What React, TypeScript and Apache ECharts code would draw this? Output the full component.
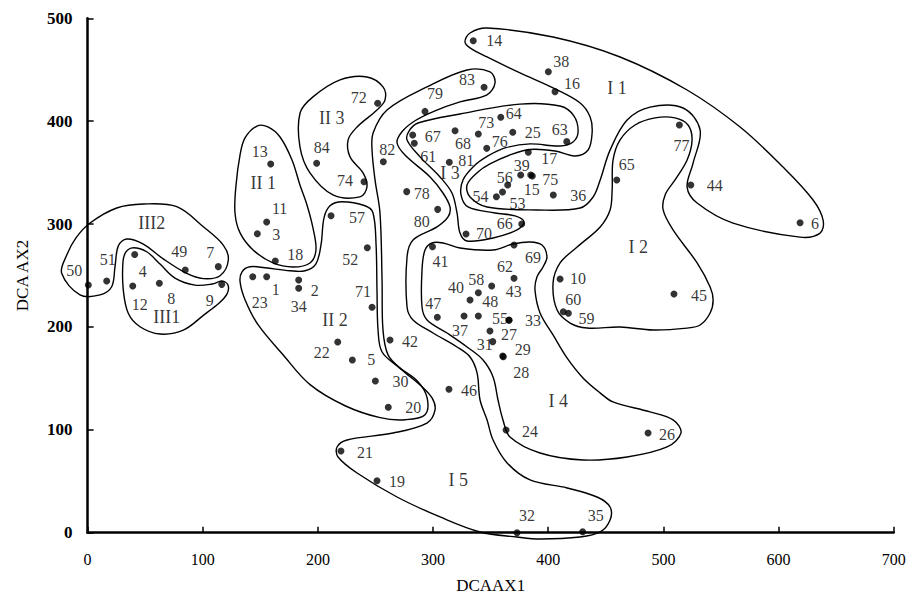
import React, { useEffect, useRef } from "react";
import * as echarts from "echarts";

// ---- sample points (DCA axis 1, DCA axis 2) ----
const pointIds = [
  1, 2, 3, 4, 5, 6, 7, 8, 9, 10, 11, 12, 13, 14, 15, 16, 17, 18, 19, 20, 21,
  22, 23, 24, 25, 26, 27, 28, 29, 30, 31, 32, 33, 34, 35, 36, 37, 38, 39, 40,
  41, 42, 43, 44, 45, 46, 47, 48, 49, 50, 51, 52, 53, 54, 55, 56, 57, 58, 59,
  60, 61, 62, 63, 64, 65, 66, 67, 68, 69, 70, 71, 72, 73, 74, 75, 76, 77, 78,
  79, 80, 81, 82, 83, 84,
];
const pointX = [
  155.5, 183.3, 147.4, 40.9, 229.9, 618.7, 113.5, 62.3, 116.5, 410.3, 155.5,
  39.2, 159, 334.9, 384.8, 405.9, 382.7, 163, 251.3, 261.1, 220, 217.2, 143.4,
  363.4, 369.2, 486.7, 349.4, 361, 360.5, 249.9, 351.8, 372.9, 366, 183.3,
  429.9, 404.4, 326.9, 400.1, 376.1, 332.1, 299.5, 262.6, 350.9, 523.8, 509.2,
  313.8, 303.7, 339.3, 84.8, 0.6, 16.6, 242.9, 360.3, 355, 365.9, 364.8, 211.4,
  339.3, 417.5, 413.1, 283.7, 370.3, 416.1, 358.8, 459.5, 377, 282.3, 319.1,
  370.3, 328.6, 247, 251.9, 339.3, 240, 386.2, 346.6, 513.9, 277.1, 293, 304,
  314.1, 256.8, 344.3, 198.9,
];
const pointY = [
  248.8, 245.6, 290.6, 270.4, 167.9, 301.3, 258.6, 242.4, 241.4, 246.6, 302,
  239.8, 358.4, 478.2, 347.7, 428.7, 369.8, 264.1, 50.5, 121.9, 79.4, 185.4,
  248.8, 99.8, 389.2, 96.9, 196.1, 171, 171.8, 147.5, 185.7, 0, 206.5, 237.6, 1,
  328.3, 210.6, 448.1, 347.7, 226.2, 278, 187.3, 239.8, 338, 232, 139.4, 209.4,
  210.6, 255.4, 240.8, 244.7, 277, 331.2, 326.6, 206.8, 338, 308.1, 233.3,
  213.3, 214.8, 378.5, 247.4, 380.1, 403.8, 342.8, 300.1, 386.6, 390.7, 279.6,
  290.4, 219.1, 417.4, 387.5, 341.2, 346.8, 373.6, 396.3, 331.5, 409.5, 314.3,
  360, 360.6, 432.9, 359.1,
];

// ---- group names and where they are written ----
const groupNames = ["I 1", "I 2", "I 3", "I 4", "I 5", "II 1", "II 2", "II 3", "III1", "III2"];
const groupX = [459.7, 478.2, 314.7, 408.8, 321.9, 152.6, 214.9, 212, 68.7, 55.7];
const groupY = [432.3, 278, 349.3, 128.3, 51.2, 339.6, 206.7, 402.8, 210, 300.7];

// ---- hand-drawn group outlines, in data units ----
const outlineIII2 = [
  [2.1, 301.0], [25.3, 315.6], [48.4, 319.5], [77.4, 316.9], [100.5, 297.4],
  [117.8, 279.6], [122.2, 265.1], [115.0, 249.8], [100.5, 247.0], [86.1, 252.0],
  [65.7, 266.1], [48.4, 280.6], [34.0, 285.5], [26.7, 279.0], [23.8, 258.6],
  [20.9, 239.1], [10.8, 231.1], [-6.6, 231.1], [-22.5, 252.1], [-18.1, 269.9],
  [-10.1, 286.5],
];
const outlineIII1 = [
  [30.7, 262.9], [33.3, 272.9], [39.4, 276.9], [51.3, 273.1], [62.9, 261.1],
  [75.9, 247.5], [93.3, 240.7], [108.1, 241.7], [116.7, 244.6], [121.9, 240.7],
  [121.0, 231.9], [113.2, 222.2], [101.9, 212.5], [83.1, 196.9], [62.9, 193.1],
  [45.5, 200.2], [35.3, 213.3], [31.0, 235.9],
];
const outlineII1 = [
  [147.1, 395.3], [156.6, 394.4], [167.1, 384.6], [177.5, 362.3], [184.4, 338.0],
  [190.5, 318.6], [195.7, 296.2], [198.3, 274.8], [193.1, 262.2], [178.4, 258.3],
  [161.0, 262.2], [143.7, 274.8], [132.4, 291.4], [128.0, 310.8], [128.9, 338.0],
  [132.4, 367.2], [136.7, 383.7],
];
const outlineII3 = [
  [184.5, 408.0], [195.7, 423.6], [219.2, 440.1], [242.6, 443.0], [256.5, 433.3],
  [258.3, 420.7], [251.3, 410.9], [234.0, 394.4], [226.2, 381.8], [227.9, 365.3],
  [239.2, 349.7], [242.6, 336.1], [236.5, 326.4], [213.1, 328.3], [193.1, 349.7],
  [184.4, 375.0],
];
const outlineII2 = [
  [134.1, 253.6], [141.0, 258.5], [154.0, 257.5], [175.8, 254.6], [188.8, 254.6],
  [198.3, 261.4], [202.7, 279.9], [205.3, 306.1], [210.5, 317.8], [220.9, 321.7],
  [240.9, 317.8], [247.8, 311.0], [250.5, 279.9], [251.3, 236.2], [252.2, 197.3],
  [255.6, 175.9], [269.6, 161.4], [286.9, 146.8], [294.8, 131.2], [293.0, 114.7],
  [275.7, 109.8], [254.0, 111.8], [223.6, 123.4], [193.2, 143.9], [169.7, 173.0],
  [148.0, 202.2], [136.7, 226.5], [132.4, 244.0],
];
const outlineI5 = [
  [216.6, 83.3], [225.3, 90.1], [265.2, 96.9], [294.7, 106.6], [301.7, 119.3],
  [299.1, 131.0], [288.7, 143.6], [273.0, 158.2], [260.9, 172.8], [256.5, 197.1],
  [255.7, 245.7], [253.9, 310.8], [249.6, 342.9], [247.0, 372.0], [247.9, 388.6],
  [260.0, 410.9], [294.7, 433.3], [329.5, 449.8], [349.5, 447.9], [353.8, 437.2],
  [346.8, 425.5], [323.4, 418.7], [301.7, 410.1], [284.3, 400.4], [273.0, 389.7],
  [268.7, 379.0], [275.6, 367.1], [297.4, 345.8], [308.6, 330.2], [314.7, 316.6],
  [313.0, 306.9], [303.4, 297.2], [282.6, 284.5], [277.4, 268.0], [277.4, 219.4],
  [282.6, 206.8], [300.0, 194.1], [320.8, 180.5], [332.1, 170.8], [338.2, 155.3],
  [340.8, 129.0], [346.9, 109.6], [352.1, 90.1], [364.3, 67.8], [384.2, 51.3],
  [416.4, 43.5], [442.4, 34.7], [453.7, 25.0], [453.7, 12.4], [445.1, 0.7],
  [427.7, -4.2], [393.0, -6.1], [373.0, -4.2], [340.8, 0.7], [306.1, 15.3],
  [268.7, 34.7], [234.0, 58.0], [217.5, 73.6],
];
const outlineI4 = [
  [293.0, 274.8], [299.1, 281.6], [308.6, 281.6], [323.4, 276.7], [352.1, 274.8],
  [369.4, 280.6], [384.2, 282.6], [394.6, 279.6], [398.9, 268.0], [395.5, 258.3],
  [390.2, 248.6], [388.5, 236.0], [392.9, 213.6], [404.2, 192.2], [416.3, 169.9],
  [430.2, 150.4], [445.0, 135.9], [456.3, 127.1], [488.4, 117.4], [508.4, 109.6],
  [515.3, 97.0], [503.2, 83.4], [468.4, 73.6], [430.2, 70.7], [392.9, 77.5],
  [366.8, 93.1], [360.7, 109.6], [356.4, 129.0], [352.1, 151.4], [343.4, 167.9],
  [329.5, 180.5], [312.1, 194.1], [294.8, 206.8], [290.4, 219.4], [290.4, 255.4],
];
const outlineI3 = [
  [279.1, 390.4], [286.9, 398.2], [323.4, 407.0], [375.5, 416.6], [410.2, 414.7],
  [422.4, 405.0], [425.9, 389.5], [421.5, 379.8], [410.2, 375.9], [384.2, 377.9],
  [362.5, 374.0], [347.7, 366.2], [335.6, 356.5], [326.0, 342.9], [324.3, 328.3],
  [330.4, 316.6], [353.8, 310.8], [371.2, 307.9], [379.0, 302.0], [372.9, 294.3],
  [352.1, 286.5], [329.5, 283.5], [323.4, 291.3], [320.8, 310.8], [316.4, 330.2],
  [306.0, 345.8], [288.7, 365.3], [277.4, 381.8],
];
const outlineI2 = [
  [456.3, 362.3], [462.4, 381.8], [475.4, 396.3], [492.8, 403.2], [510.1, 403.2],
  [521.4, 396.3], [524.9, 381.8], [520.6, 362.3], [510.1, 342.9], [501.5, 328.3],
  [499.8, 313.7], [508.4, 294.3], [529.3, 262.2], [540.6, 238.8], [543.2, 226.2],
  [540.6, 213.6], [531.9, 201.9], [520.6, 198.9], [491.1, 197.0], [462.4, 199.9],
  [433.8, 198.9], [419.0, 203.8], [407.7, 216.4], [404.2, 242.7], [410.3, 262.2],
  [425.1, 277.7], [445.1, 297.2], [453.7, 313.7], [455.5, 333.1],
];
const outlineI1 = [
  [327.7, 477.3], [332.1, 485.7], [346.8, 490.5], [404.2, 481.8], [462.4, 462.4],
  [520.6, 430.3], [566.6, 394.3], [603.9, 355.4], [630.0, 323.4], [638.7, 303.8],
  [636.1, 291.2], [618.7, 287.3], [560.5, 300.9], [529.3, 320.4], [520.6, 335.9],
  [525.8, 359.2], [531.9, 391.4], [517.1, 412.8], [488.4, 413.7], [468.5, 401.1],
  [453.7, 371.9], [445.1, 342.8], [439.0, 326.3], [427.7, 315.6], [390.3, 313.7],
  [346.9, 316.6], [332.1, 326.3], [329.5, 338.0], [339.0, 350.6], [349.4, 358.4],
  [366.8, 367.2], [384.2, 372.5], [405.9, 371.0], [423.3, 366.2], [434.6, 372.0],
  [438.1, 388.5], [436.4, 404.1], [427.7, 417.7], [404.2, 432.3], [375.5, 446.9],
  [346.8, 462.4], [332.1, 471.2],
];
const outlines = [
  outlineIII2, outlineIII1, outlineII1, outlineII3, outlineII2,
  outlineI5, outlineI4, outlineI3, outlineI2, outlineI1,
];

// ---- label placement (screen-pixel offsets from each point) ----
const labelOffsets: Record<number, [number, number]> = {
  1: [9, 13], 2: [16, 10], 3: [19, 1], 4: [8, 17], 5: [19, 0], 6: [15, 1],
  7: [-8, -14], 8: [12, 15], 9: [-12, 16], 10: [18, 0], 11: [13, -14],
  12: [7, 19], 13: [-11, -12], 14: [21, 0], 15: [1, 15], 16: [17, -8],
  17: [21, 6], 18: [20, -6], 19: [20, 1], 20: [25, 0], 21: [24, 1],
  22: [-16, 11], 23: [7, 26], 24: [24, 1], 25: [20, 0], 26: [19, 1],
  27: [19, 4], 28: [18, 16], 29: [20, -6], 30: [25, 1], 31: [-8, 3],
  32: [10, -17], 33: [24, 0], 34: [0, 18], 35: [13, -16], 36: [25, 1],
  37: [-4, 14], 38: [13, -10], 39: [1, -9], 40: [-14, -12], 41: [8, 15],
  42: [20, 1], 43: [22, 6], 44: [24, 1], 45: [25, 1], 46: [20, 1],
  47: [-4, -14], 48: [12, -15], 49: [-6, -18], 50: [-14, -14], 51: [1, -21],
  52: [-17, 12], 53: [15, 12], 54: [-16, 0], 55: [-9, -1], 56: [-3, -7],
  57: [26, 2], 58: [-2, -13], 59: [18, 5], 60: [10, -12], 61: [14, 13],
  62: [-9, -12], 63: [-7, -12], 64: [13, -4], 65: [10, -16], 66: [-17, 0],
  67: [20, 2], 68: [8, 13], 69: [19, 12], 70: [18, 0], 71: [-9, -16],
  72: [-19, -6], 73: [8, -12], 74: [-19, -1], 75: [18, 4], 76: [13, -7],
  77: [2, 21], 78: [15, 2], 79: [10, -18], 80: [-16, 12], 81: [17, -2],
  82: [4, -12], 83: [-17, -8], 84: [5, -16],
};

const FONT = '"Liberation Serif", "Times New Roman", serif';

export default function App() {
  const ref = useRef<HTMLDivElement>(null);
  useEffect(() => {
    if (!ref.current) return;
    const chart = echarts.init(ref.current, undefined, { renderer: "svg" });

    const outlineSeries = outlines.map((pts) => ({
      type: "custom",
      coordinateSystem: "cartesian2d",
      silent: true,
      clip: false,
      z: 1,
      data: [[0, 0]],
      renderItem: (_params: any, api: any) => ({
        type: "polygon",
        shape: { points: pts.map((p) => api.coord(p)), smooth: 0.35 },
        style: { fill: "none", stroke: "#000", lineWidth: 1.4 },
      }),
    }));

    const pointData = pointIds.map((id, i) => ({
      value: [pointX[i], pointY[i]],
      name: String(id),
      label: { offset: labelOffsets[id] || [12, 0] },
    }));

    const groupData = groupNames.map((n, i) => ({
      value: [groupX[i], groupY[i]],
      name: n,
    }));

    const textCommon = {
      show: true,
      position: "inside",
      formatter: "{b}",
      fontFamily: FONT,
      color: "#000",
      textBorderWidth: 0,
      textBorderColor: "transparent",
      textShadowBlur: 0,
    };

    chart.setOption({
      animation: false,
      backgroundColor: "#fff",
      grid: { left: 87.6, right: 27.3, top: 18.3, bottom: 66.3, containLabel: false },
      xAxis: {
        type: "value",
        min: 0,
        max: 700,
        interval: 100,
        name: "DCAAX1",
        nameLocation: "middle",
        nameGap: 44,
        nameTextStyle: { fontFamily: FONT, fontSize: 17, color: "#000" },
        axisLine: { show: true, onZero: false, lineStyle: { color: "#000", width: 2.5 } },
        axisTick: { show: true, inside: true, length: 6, lineStyle: { color: "#000", width: 1.5 } },
        axisLabel: { fontFamily: FONT, fontSize: 16, color: "#000", margin: 19 },
        splitLine: { show: false },
      },
      yAxis: {
        type: "value",
        min: 0,
        max: 500,
        interval: 100,
        name: "DCA AX2",
        nameLocation: "middle",
        nameGap: 57,
        nameTextStyle: { fontFamily: FONT, fontSize: 17, color: "#000" },
        axisLine: { show: true, onZero: false, lineStyle: { color: "#000", width: 2.5 } },
        axisTick: { show: true, inside: true, length: 6, lineStyle: { color: "#000", width: 1.5 } },
        axisLabel: { fontFamily: FONT, fontSize: 17, fontWeight: "bold", color: "#000", margin: 15 },
        splitLine: { show: false },
      },
      series: [
        ...outlineSeries,
        {
          type: "scatter",
          symbol: "circle",
          symbolSize: 7,
          z: 3,
          silent: true,
          itemStyle: { color: "#000" },
          label: { ...textCommon, fontSize: 16 },
          data: pointData,
        },
        {
          type: "scatter",
          symbolSize: 0,
          z: 3,
          silent: true,
          label: { ...textCommon, fontSize: 18 },
          data: groupData,
        },
      ],
    });
    return () => chart.dispose();
  }, []);
  return (
    <div
      ref={ref}
      style={{ position: "fixed", left: 0, top: 0, width: 921, height: 599, background: "#fff" }}
    />
  );
}
